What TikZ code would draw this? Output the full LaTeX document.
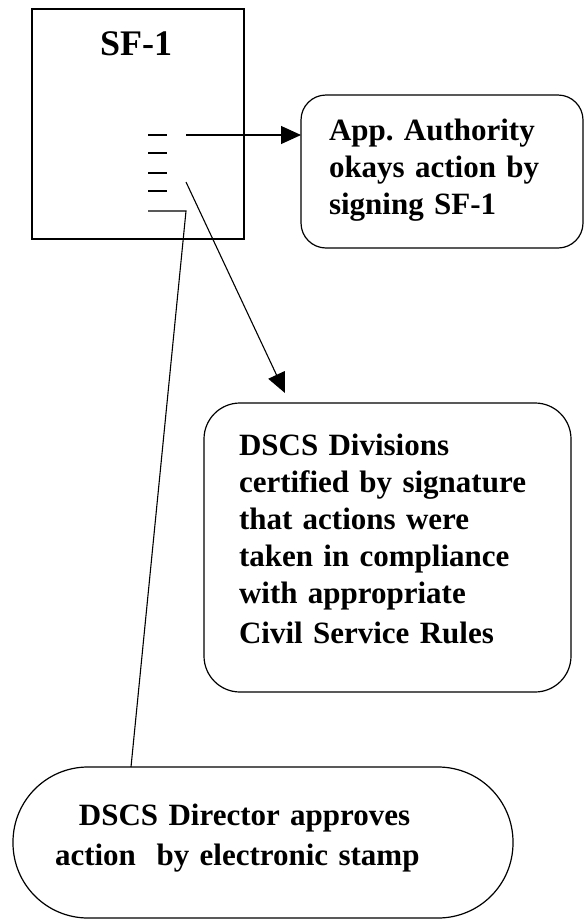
\documentclass[tikz,border=0pt]{standalone}
\usepackage{fontspec}
\setmainfont{Liberation Serif}
\usetikzlibrary{arrows.meta}
\frenchspacing
\begin{document}
\begin{tikzpicture}[x=1pt,y=-1pt,
  every node/.style={inner sep=0pt, outer sep=0pt},
  frame/.style={draw, line width=1.2pt},
  txt/.style={font=\fontsize{31}{37}\selectfont\bfseries, align=left, anchor=base west},
  conn/.style={line width=1.1pt},
  arr/.style={conn, -{Triangle[length=20pt,width=18pt]}},
  tick/.style={line width=1.1pt}]
\useasboundingbox (0,0) rectangle (585,919);
% shapes
\node[frame, minimum width=212pt, minimum height=230pt] (form) at (138,124) {};
\node[frame, rounded corners=25pt, minimum width=282pt, minimum height=153pt] (app) at (442,171.5) {};
\node[frame, rounded corners=36pt, minimum width=367pt, minimum height=289pt] (div) at (387.5,547.5) {};
\node[frame, rounded corners=75pt, minimum width=500pt, minimum height=151pt] (dir) at (263,842.5) {};
% texts
\node[font=\fontsize{36}{40}\selectfont\bfseries, anchor=base] (title) at (136,55) {SF-1};
\node[txt, text width=250pt] (apptxt) at (329,140) {App. Authority\\okays action by\\signing SF-1};
\node[txt, text width=320pt] (divtxt) at (239,455) {DSCS Divisions\\certified by signature\\that actions were\\taken in compliance\\with appropriate\\[3pt]Civil Service Rules};
\node[txt, text width=420pt, font=\fontsize{31}{40}\selectfont\bfseries] (dirtxt) at (55,825) {\hspace*{24pt}DSCS Director approves\\action\ \ by electronic stamp};
% signature lines on the form
\coordinate (l1a) at (148,135); \coordinate (l1b) at (167,135);
\coordinate (l2a) at (148,153); \coordinate (l2b) at (167,153);
\coordinate (l3a) at (148,173); \coordinate (l3b) at (167,173);
\coordinate (l4a) at (148,191); \coordinate (l4b) at (167,191);
\coordinate (l5a) at (148,211); \coordinate (l5b) at (186,211);
\draw[tick] (l1a) -- (l1b);
\draw[tick] (l2a) -- (l2b);
\draw[tick] (l3a) -- (l3b);
\draw[tick] (l4a) -- (l4b);
% connectors
\coordinate (s1) at (186,135);
\draw[arr] (s1) -- (s1 -| app.west);
\coordinate (s2) at (186,182);
\coordinate (t2) at (285,393);
\draw[arr] (s2) -- (t2);
\coordinate (t3) at (131,767);
\draw[conn] (l5a) -- (l5b) -- (t3);
\end{tikzpicture}
\end{document}
